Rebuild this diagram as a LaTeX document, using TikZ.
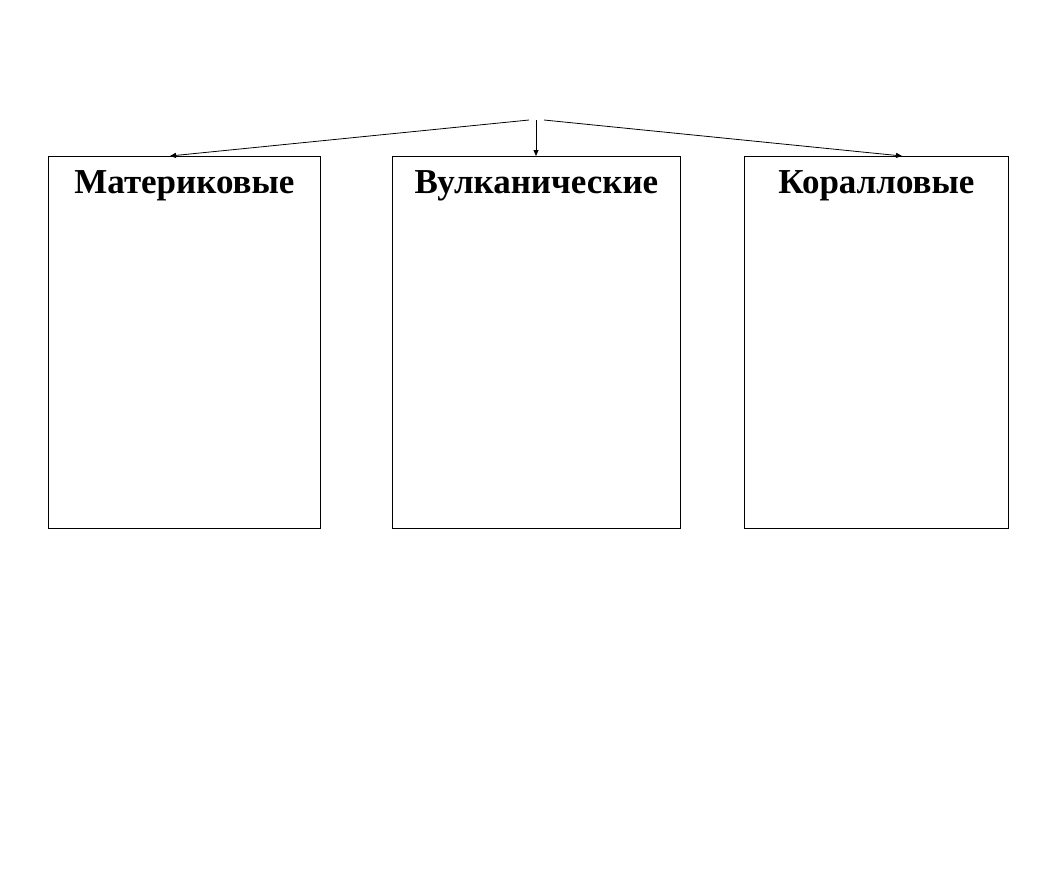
\documentclass[tikz,border=0pt]{standalone}
\usepackage{fontspec}
\setmainfont{Liberation Serif}
\usepackage{tikz}
\usetikzlibrary{positioning,arrows.meta}

\begin{document}
\begin{tikzpicture}[x=1pt,y=-1pt,
    islandbox/.style={draw, line width=0.8pt, anchor=north west, inner sep=0pt},
    islandtitle/.style={font=\fontsize{35}{40}\selectfont\bfseries},
    tip/.style={-{Triangle[length=6pt,width=5pt]}, line width=0.8pt}]
                % Page
                \useasboundingbox[fill=white] (0,0) rectangle (1041,889);

                % Boxes
                \node[islandbox, minimum width=272pt, minimum height=372pt] (mat) at (48,156) {};
                \node[islandbox, minimum width=288pt, minimum height=372pt] (vulk) at (392,156) {};
                \node[islandbox, minimum width=264pt, minimum height=372pt] (kor) at (744,156) {};

                % Titles
                \node[islandtitle, below=11pt of mat.north] (matT) {Материковые};
                \node[islandtitle, below=11pt of vulk.north] (vulkT) {Вулканические};
                \node[islandtitle, below=11pt of kor.north] (korT) {Коралловые};

                % Arrows
                \coordinate (srcL) at (529,120);
                \coordinate (srcM) at (536,120);
                \coordinate (srcR) at (544,120);
                \coordinate (endL) at (170,156);
                \coordinate (endR) at (902,156);
                \draw[tip] (srcL) -- (endL);
                \draw[tip] (srcM) -- (srcM |- vulk.north);
                \draw[tip] (srcR) -- (endR);
            \end{tikzpicture}
\end{document}
